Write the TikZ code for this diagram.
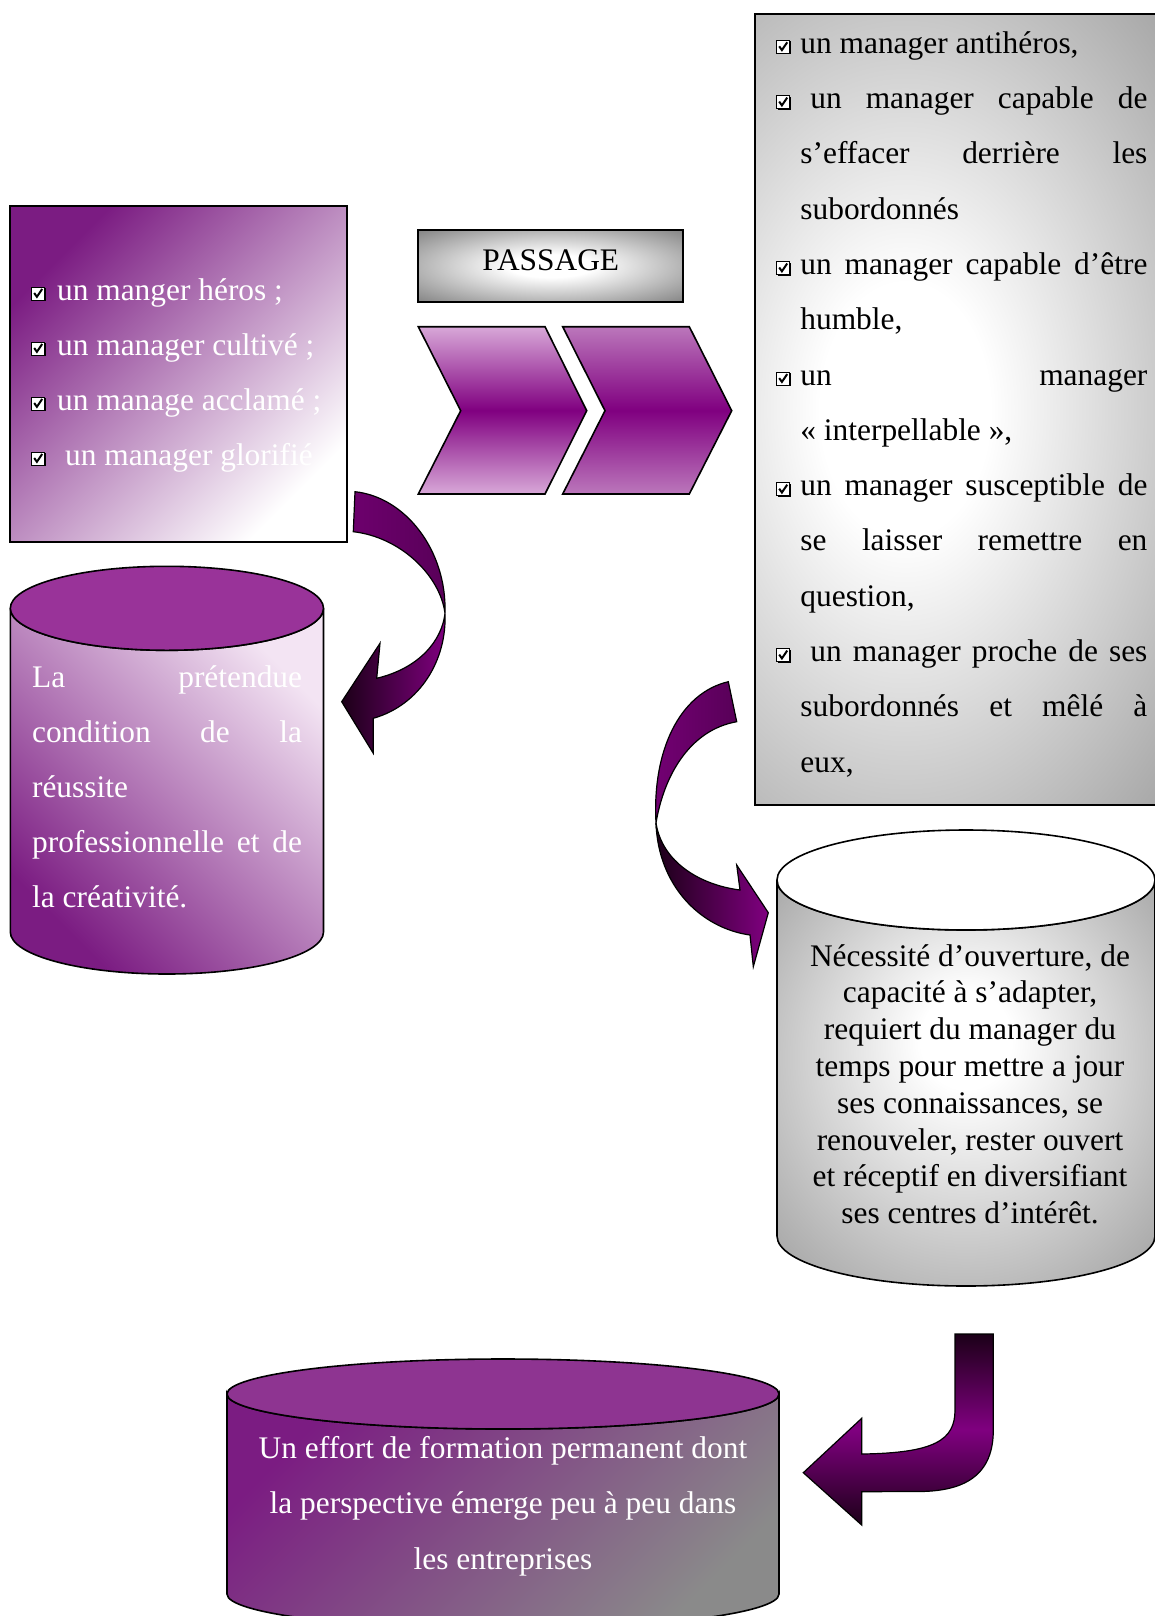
\documentclass[tikz,border=0pt]{standalone}
\usepackage{fontspec}
\setmainfont{Liberation Serif}
\usepackage{tikz}

\definecolor{plum}{RGB}{123,28,130}
\definecolor{lidtop}{RGB}{153,51,153}
\definecolor{lidbottom}{RGB}{142,52,145}
\definecolor{mauvelight}{RGB}{216,168,216}
\definecolor{mauvemid}{RGB}{187,119,187}
\definecolor{deepplum}{RGB}{128,0,128}
\definecolor{darkplum}{RGB}{88,0,88}
\definecolor{inkplum}{RGB}{28,0,24}
\definecolor{palepink}{RGB}{243,228,243}
\definecolor{steel}{RGB}{138,138,138}
\definecolor{silver}{RGB}{150,150,150}
\definecolor{slate}{RGB}{112,112,112}

\pgfdeclareradialshading{glow}{\pgfpoint{0bp}{0bp}}{color(0bp)=(white); color(8bp)=(white); color(40bp)=(silver); color(50bp)=(silver)}
\pgfdeclareradialshading{glowc}{\pgfpoint{0bp}{6bp}}{color(0bp)=(white); color(6bp)=(white); color(40bp)=(silver); color(50bp)=(silver)}
\pgfdeclareradialshading{glowdark}{\pgfpoint{0bp}{0bp}}{color(0bp)=(white); color(8bp)=(white); color(40bp)=(slate); color(50bp)=(slate)}

\tikzset{card/.style={draw, line width=1pt}}
\tikzset{chevron/.style={draw, line width=0.8pt}}
\tikzset{drum/.style={draw, line width=0.8pt}}
\tikzset{ribbon/.style={draw, line width=0.6pt}}
\tikzset{bodytext/.style={inner sep=0pt, anchor=base west, align=left}}
\tikzset{chkbox/.pic={
        \fill[black] (1.5,1) rectangle (14.5,-12);
        \filldraw[fill=white, draw=black, line width=0.4pt] (0,0) rectangle (13,-13);
        \draw[line width=1pt] (2.5,-7) -- (5.2,-3.2) -- (10.5,-11);
}}

\newcommand{\jline}[1]{\makebox[\hsize][s]{#1}}
\newcommand{\plainspace}{\spaceskip=0pt\xspaceskip=0pt\relax}
\newcommand{\fixedspace}{\spaceskip=0.25em\xspaceskip=0.25em\relax}

\begin{document}
\begin{tikzpicture}[x=0.5pt, y=-0.5pt]
\useasboundingbox (0,0) rectangle (1155,1616);
\clip (0,0) rectangle (1155,1616);

% left box
\path[card, top color=plum, bottom color=white, shading angle=45] (10.3,206) rectangle (347.2,542);
\foreach \y in {300,355,410,465} \pic at (31.7,\y) {chkbox};
\node[bodytext, text width=150pt, text=white, font=\fontsize{15.7}{27.5}\selectfont] (heros) at (56.7,300)
    {\plainspace un manger héros ;\\ un manager cultivé ;\\ un manage acclamé ;\\ \hspace*{4pt}un manager glorifié};

% passage
\path[card, shade, shading=glowdark] (418.3,230) rectangle (683.3,301.7);
\node[inner sep=0pt, anchor=base, font=\fontsize{15.7}{18}\selectfont] (passage) at (550.8,270) {PASSAGE};
\path[chevron, top color=mauvelight, bottom color=mauvelight, middle color=deepplum]
    (418.3,326.7) -- (545,326.7) -- (586.7,410.7) -- (545,494) -- (418.3,494) -- (460.7,410.7) -- cycle;
\path[chevron, top color=mauvemid, bottom color=mauvemid, middle color=deepplum]
    (562.7,326.7) -- (689.3,326.7) -- (731.7,410.7) -- (689.3,494) -- (562.7,494) -- (605,410.7) -- cycle;

% right box
\begin{scope}
\clip (755,14.4) rectangle (1170,804.7);
\shade[shading=glow] (640,14.4) rectangle (1170,804.7);
\end{scope}
\draw[card] (755,14.4) rectangle (1170,804.7);
\foreach \k in {0,1,4,6,8,11} \pic at (776.7,53.3+55.3*\k) {chkbox};
\node[bodytext, text width=173.5pt, font=\fontsize{15.7}{27.65}\selectfont] (antiheros) at (800,53.3)
    {\plainspace un manager antihéros,\\
     \jline{\kern5pt un manager capable de}\\
     \jline{s’effacer derrière les}\\
     subordonnés\\
     \jline{un manager capable d’être}\\
     humble,\\
     \jline{un manager}\\
     « interpellable »,\\
     \jline{un manager susceptible de}\\
     \jline{se laisser remettre en}\\
     question,\\
     \jline{\kern5pt un manager proche de ses}\\
     \jline{subordonnés et mêlé à}\\
     eux,};

% left drum
\path[drum, top color=palepink, bottom color=plum, shading angle=-45]
    (10.3,608.3) -- (10.3,932) arc[start angle=180, end angle=360, x radius=78.3pt, y radius=21pt]
    -- (323.5,608.3) arc[start angle=0, end angle=-180, x radius=78.3pt, y radius=21pt] -- cycle;
\path[drum, fill=lidtop] (166.9,608.3) ellipse[x radius=78.3pt, y radius=21pt];
\node[bodytext, text width=135pt, text=white, font=\fontsize{15.7}{27.5}\selectfont] (pretendue) at (31.7,687.7)
    {\plainspace\jline{La prétendue}\\
     \jline{condition de la}\\
     réussite\\
     \jline{professionnelle et de}\\
     la créativité.};

% right drum
\path[drum, shade, shading=glowc]
    (777,880) -- (777,1236) arc[start angle=180, end angle=360, x radius=94.5pt, y radius=25pt]
    -- (1155,880) arc[start angle=0, end angle=-180, x radius=94.5pt, y radius=25pt] -- cycle;
\path[drum, fill=white] (966,880) ellipse[x radius=94.5pt, y radius=25pt];
\node[inner sep=0pt, anchor=base, text width=180pt, align=center, font=\fontsize{15.7}{18.4}\selectfont] (ouverture) at (970,966)
    {\fixedspace Nécessité d’ouverture, de\\ capacité à s’adapter,\\ requiert du manager du\\ temps pour mettre a jour\\
     ses connaissances, se\\ renouveler, rester ouvert\\ et réceptif en diversifiant\\ ses centres d’intérêt.};

% bottom drum
\path[drum, top color=plum, bottom color=steel, shading angle=45]
    (227,1394) -- (227,1594) arc[start angle=180, end angle=360, x radius=138pt, y radius=17.5pt]
    -- (779,1394) arc[start angle=0, end angle=-180, x radius=138pt, y radius=17.5pt] -- cycle;
\path[drum, fill=lidbottom] (503,1394) ellipse[x radius=138pt, y radius=17.5pt];
\node[inner sep=0pt, anchor=base, text width=270pt, align=center, text=white, font=\fontsize{15.7}{27.75}\selectfont] (formation) at (503,1458)
    {\fixedspace Un effort de formation permanent dont\\ la perspective émerge peu à peu dans\\ les entreprises};

% arrows
\path[ribbon, left color=deepplum!85!black, right color=darkplum]
    (355,491.7) .. controls (405,497) and (447,550) .. (445,613.3)
    .. controls (440,575) and (400,537) .. (353.3,531.7) -- cycle;
\path[ribbon, left color=inkplum, right color=deepplum]
    (445,613.3) .. controls (442,640) and (420,668) .. (376.7,678.3) -- (380,643.3) -- (341.7,701.7)
    -- (373.3,753.3) -- (373.3,718.3) .. controls (420,705) and (447,660) .. (445,613.3) -- cycle;

\path[ribbon, left color=deepplum!90!black, right color=darkplum]
    (728.3,681.7) .. controls (680,693) and (652,750) .. (656,823)
    .. controls (664,775) and (690,730) .. (736.7,721.7) -- cycle;
\path[ribbon, left color=inkplum, right color=deepplum]
    (656,823) .. controls (662,862) and (700,885) .. (740,890) -- (736.7,865) -- (768.3,912.7)
    -- (753.3,966.7) -- (750,935) .. controls (700,928) and (658,885) .. (656,823) -- cycle;

\path[ribbon, top color=inkplum, bottom color=inkplum, middle color=deepplum]
    (955,1334) -- (993.3,1334) -- (993.3,1430) .. controls (993.3,1475) and (965,1491) .. (920,1491.5)
    -- (861.7,1491.7) -- (861.7,1525) -- (803.3,1472.7) -- (861.7,1418.3) -- (861.7,1454)
    .. controls (935,1453) and (955,1440) .. (955,1410) -- cycle;
\end{tikzpicture}
\end{document}
